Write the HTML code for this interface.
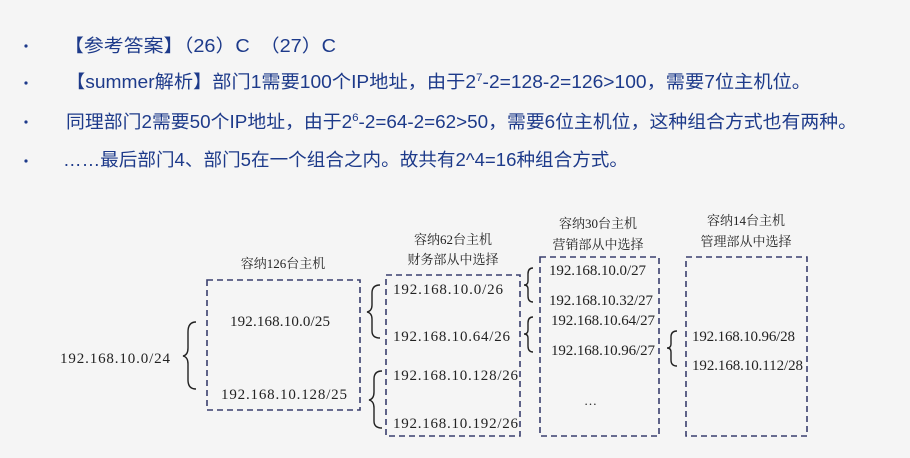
<!DOCTYPE html>
<html><head><meta charset="utf-8"><style>
html,body{margin:0;padding:0;background:#f5f5f5;}
svg{display:block;}
.t{font-family:"Liberation Sans","Noto Sans CJK SC",sans-serif;font-size:18px;fill:#1d3a8a;}
.d{font-family:"Liberation Serif","Noto Serif CJK SC",serif;font-size:15px;fill:#222;}
.l{font-family:"Liberation Serif","Noto Serif CJK SC",serif;font-size:13px;fill:#222;}
.b{fill:none;stroke:#3a3f6e;stroke-width:1.6;stroke-dasharray:6,4;}
.br{fill:none;stroke:#222;stroke-width:1.4;}
</style></head><body>
<svg width="910" height="458" viewBox="0 0 910 458" xmlns="http://www.w3.org/2000/svg">
<rect width="910" height="458" fill="#f5f5f5"/>
<g fill="#1d3a8a"><circle cx="26" cy="46" r="1.6"/><circle cx="26" cy="83" r="1.6"/><circle cx="26" cy="122" r="1.6"/><circle cx="26" cy="161" r="1.6"/></g>
<text class="t" x="64" y="52" textLength="272" lengthAdjust="spacingAndGlyphs">【参考答案】（26）C　（27）C</text>
<text class="t" x="66" y="88" textLength="745" lengthAdjust="spacingAndGlyphs">【summer解析】部门1需要100个IP地址，由于2<tspan font-size="11" dy="-7">7</tspan><tspan dy="7">-2=128-2=126&gt;100，需要7位主机位。</tspan></text>
<text class="t" x="66" y="128" textLength="791" lengthAdjust="spacingAndGlyphs">同理部门2需要50个IP地址，由于2<tspan font-size="11" dy="-7">6</tspan><tspan dy="7">-2=64-2=62&gt;50，需要6位主机位，这种组合方式也有两种。</tspan></text>
<text class="t" x="63" y="166" textLength="565" lengthAdjust="spacingAndGlyphs">……最后部门4、部门5在一个组合之内。故共有2^4=16种组合方式。</text>

<rect class="b" x="207" y="280" width="153" height="130"/>
<rect class="b" x="386" y="275" width="134" height="161"/>
<rect class="b" x="540" y="257" width="119" height="179"/>
<rect class="b" x="686" y="257" width="121" height="179"/>

<path class="br" d="M196 322 Q188 322 188 332 L188 348 Q188 355 183 356 Q188 357 188 364 L188 380 Q188 389 196 389"/>
<path class="br" d="M380 285 Q372 285 372 293 L372 305 Q372 311 367 312 Q372 313 372 319 L372 331 Q372 338 380 338"/>
<path class="br" d="M382 371 Q374 371 374 379 L374 392 Q374 399 369 400 Q374 401 374 408 L374 421 Q374 428 382 428"/>
<path class="br" d="M533 268 Q528 268 528 274 L528 281 Q528 285 524 285 Q528 285 528 289 L528 296 Q528 302 533 302"/>
<path class="br" d="M533 317 Q528 317 528 323 L528 330 Q528 334 524 334 Q528 334 528 338 L528 346 Q528 352 533 352"/>
<path class="br" d="M677 331 Q671 331 671 337 L671 344 Q671 348 667 348 Q671 348 671 352 L671 360 Q671 366 677 366"/>

<text class="d" x="60" y="363" textLength="110" lengthAdjust="spacing">192.168.10.0/24</text>
<text class="l" x="283" y="268" text-anchor="middle">容纳126台主机</text>
<text class="d" x="230" y="326" textLength="100" lengthAdjust="spacing">192.168.10.0/25</text>
<text class="d" x="221" y="399" textLength="126" lengthAdjust="spacing">192.168.10.128/25</text>

<text class="l" x="453" y="244" text-anchor="middle">容纳62台主机</text>
<text class="l" x="453" y="264" text-anchor="middle">财务部从中选择</text>
<text class="d" x="393" y="294" textLength="110" lengthAdjust="spacing">192.168.10.0/26</text>
<text class="d" x="393" y="341" textLength="117" lengthAdjust="spacing">192.168.10.64/26</text>
<text class="d" x="393" y="380" textLength="125" lengthAdjust="spacing">192.168.10.128/26</text>
<text class="d" x="393" y="428" textLength="125" lengthAdjust="spacing">192.168.10.192/26</text>

<text class="l" x="598" y="228" text-anchor="middle">容纳30台主机</text>
<text class="l" x="598" y="249" text-anchor="middle">营销部从中选择</text>
<text class="d" x="549" y="275" textLength="97" lengthAdjust="spacing">192.168.10.0/27</text>
<text class="d" x="549" y="305" textLength="104" lengthAdjust="spacing">192.168.10.32/27</text>
<text class="d" x="551" y="325" textLength="104" lengthAdjust="spacing">192.168.10.64/27</text>
<text class="d" x="551" y="355" textLength="104" lengthAdjust="spacing">192.168.10.96/27</text>
<text class="l" x="584" y="405">…</text>

<text class="l" x="746" y="225" text-anchor="middle">容纳14台主机</text>
<text class="l" x="746" y="246" text-anchor="middle">管理部从中选择</text>
<text class="d" x="692" y="341" textLength="103" lengthAdjust="spacing">192.168.10.96/28</text>
<text class="d" x="692" y="370" textLength="111" lengthAdjust="spacing">192.168.10.112/28</text>
</svg>
</body></html>
